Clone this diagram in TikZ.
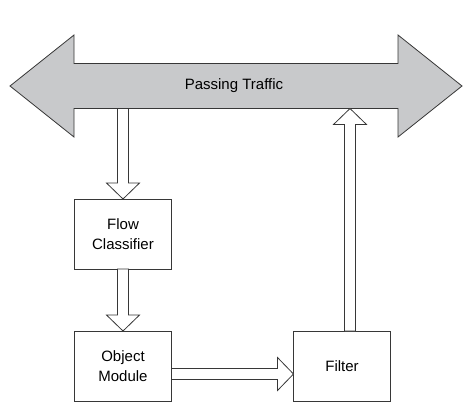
\documentclass[tikz,border=0pt]{standalone}
\usepackage{fontspec}
\setmainfont{Liberation Sans}
\usetikzlibrary{calc, positioning}
\definecolor{trafficgray}{RGB}{200,201,203}
\definecolor{edgegray}{RGB}{55,55,55}

\tikzset{
  box/.style={draw=edgegray, line width=0.8pt, minimum width=97pt, minimum height=70pt,
    inner sep=0pt, outer sep=0pt, align=center, font=\fontsize{15}{19.5}\selectfont},
  shaftbox/.style={minimum width=324pt, minimum height=45pt, inner sep=0pt, outer sep=0pt,
    font=\fontsize{15}{18}\selectfont},
  hollow/.style={draw=edgegray, fill=white, line width=0.8pt, line join=miter},
}

% hollow block arrow from #1 to #2 (tip at #2)
\newcommand{\blockarrow}[2]{%
  \path[hollow] let \p1=(#1), \p2=(#2),
    \n1={atan2(\y2-\y1,\x2-\x1)}, \n2={veclen(\x2-\x1,\y2-\y1)} in
    [shift={(\p1)}, rotate=\n1]
    (0pt,5.5pt) -- (\n2-16pt,5.5pt) -- (\n2-16pt,16.5pt) -- (\n2,0pt)
    -- (\n2-16pt,-16.5pt) -- (\n2-16pt,-5.5pt) -- (0pt,-5.5pt) -- cycle;
}

\begin{document}
\begin{tikzpicture}[x=1pt, y=-1pt]
\useasboundingbox (0,0) rectangle (470,416);

\node[shaftbox] (traffic) at (236,86) {};
\draw[draw=edgegray, fill=trafficgray, line width=0.8pt, line join=miter]
  (traffic.north west) -- ++(0,-28.5) -- ($(traffic.west)+(-64,0)$)
  -- ($(traffic.south west)+(0,28.5)$) -- (traffic.south west)
  -- (traffic.south east) -- ++(0,28.5) -- ($(traffic.east)+(64,0)$)
  -- ($(traffic.north east)+(0,-28.5)$) -- (traffic.north east) -- cycle;
\node[shaftbox, xshift=-2pt] at (traffic) {Passing Traffic};

\node[box] (flow) at (123,234) {Flow\\Classifier};
\node[box] (object) at (123,366) {Object\\Module};
\node[box] (filter) at (342,366) {Filter};

\coordinate (out) at ($(object.east)+(0,8)$);
\coordinate (in) at ($(filter.west)+(0,8)$);
\coordinate (up) at ($(filter.north)+(8,0)$);

\blockarrow{traffic.south -| flow.north}{flow.north}
\blockarrow{flow.south}{object.north}
\blockarrow{out}{in}
\blockarrow{up}{up |- traffic.south}

\end{tikzpicture}
\end{document}
